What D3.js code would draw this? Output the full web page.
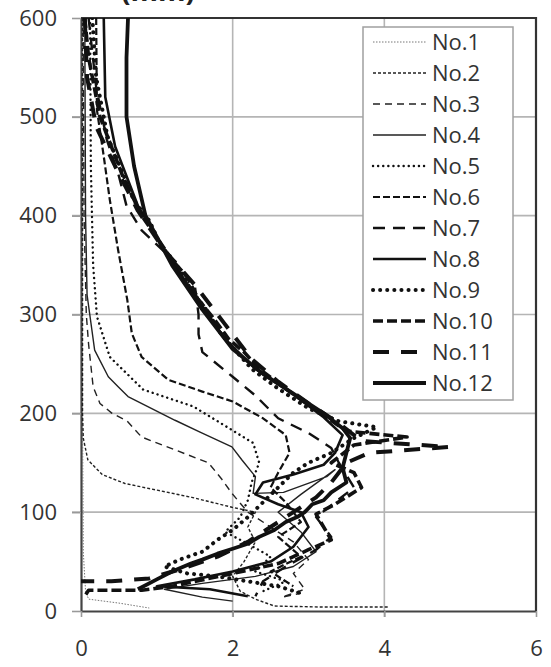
<!DOCTYPE html>
<html>
<head>
<meta charset="utf-8">
<script src="https://cdn.jsdelivr.net/npm/d3@7"></script>
<style>
  body { margin: 0; background: #fff; }
  .axis text { font-family: "Open Sans", sans-serif; font-size: 22px; fill: #333; }
  .legend text { font-family: "Open Sans", sans-serif; font-size: 22px; fill: #333; }
</style>
</head>
<body>
<div id="chart"></div>
<script>
// profiles: [value, height]
var no1 = [[0.02,600],[0.02,400],[0.02,200],[0.03,60],[0.06,20],[0.1,12],[0.5,8],[0.9,3]];
var no2 = [[0.02,600],[0.02,400],[0.02,200],[0.03,175],[0.09,153],[0.28,138],[0.58,129],[1.02,122],[1.46,115],[1.99,105],[2.3,100],
           [2.2,85],[2.3,70],[2.15,50],[2.0,35],[2.1,20],[2.3,12],[2.55,5],[3.2,4],[4.05,4]];
var no3 = [[0.03,600],[0.04,400],[0.07,300],[0.1,270],[0.16,227],[0.25,210],[0.41,200],[0.61,192],[0.8,176],[1.24,163],[1.68,150],
           [1.86,133],[1.99,119],[2.2,100],[2.5,85],[2.8,70],[3.0,52],[2.8,38],[2.95,22],[2.65,14],[2.9,18]];
var no4 = [[0.05,600],[0.06,400],[0.08,320],[0.18,264],[0.36,237],[0.49,227],[0.62,217],[1.24,193],[1.57,181],[1.99,166],[2.12,153],
           [2.3,136],[2.27,119],[2.67,120],[3.24,136],[3.35,143],[2.9,118],[2.6,100],[2.9,80],[3.1,60],[2.8,45],[2.3,35],[1.6,28],[1.1,22],[1.6,14],[2.0,10]];
var no5 = [[0.12,600],[0.13,450],[0.16,350],[0.21,298],[0.38,257],[0.82,224],[1.48,207],[1.93,186],[2.27,170],[2.35,150],[2.25,130],
           [2.2,112],[2.1,95],[1.9,80],[2.2,68],[2.5,55],[2.3,40],[2.7,30],[2.4,20]];
var no6 = [[0.2,600],[0.21,507],[0.3,460],[0.38,416],[0.49,365],[0.61,315],[0.67,281],[0.8,257],[1.15,234],[1.6,222],[2.0,212],
           [2.4,195],[2.7,178],[2.75,160],[2.6,140],[2.5,125],[2.7,110],[2.9,90],[2.6,75],[2.9,55],[2.5,40],[2.8,25]];
var no7 = [[0.1,600],[0.2,530],[0.34,477],[0.5,440],[0.6,410],[0.8,385],[1.15,360],[1.5,330],[1.55,300],[1.55,280],[1.6,262],[2.0,237],
           [2.3,218],[2.6,195],[3.0,180],[3.3,165],[3.4,150],[3.6,125],[3.3,107],[3.1,95],[3.3,75],[3.1,62],[2.7,45],[2.4,30],[2.3,15]];
var no8 = [[0.3,600],[0.32,520],[0.45,470],[0.75,410],[1.1,365],[1.5,320],[1.9,275],[2.3,245],[2.75,222],[3.2,196],[3.45,178],[3.35,160],
           [3.2,148],[2.8,138],[2.4,130],[2.3,118],[2.6,108],[2.9,100],[3.0,85],[2.8,65],[2.5,50],[2.0,40],[1.5,32],[1.0,25],[1.7,22],[2.2,15]];
var no9 = [[0.15,600],[0.2,540],[0.35,480],[0.7,415],[0.9,395],[1.05,370],[1.25,352],[1.45,325],[1.65,305],[1.85,280],[2.25,245],[2.6,225],
           [3.0,205],[3.4,192],[3.9,186],[3.6,175],[3.3,160],[3.0,150],[2.8,140],[2.6,125],[2.4,110],[2.2,95],[2.0,82],[1.8,72],[1.6,60],
           [1.3,52],[1.1,45],[1.4,38],[1.8,35],[2.2,30],[2.6,25],[2.9,18]];
var no10 = [[0.05,600],[0.1,560],[0.25,500],[0.55,440],[0.8,400],[1.0,378],[1.2,355],[1.4,338],[1.55,315],[1.75,296],[1.95,275],[2.15,262],
            [2.35,245],[2.75,222],[3.2,198],[3.5,182],[4.3,176],[3.6,168],[3.3,150],[3.6,140],[3.7,125],[3.35,108],[3.1,98],[3.3,72],
            [3.0,62],[2.6,48],[2.0,38],[1.2,25],[0.8,21],[0.1,21],[0.05,15]];
var no11 = [[0.05,600],[0.08,540],[0.2,490],[0.45,450],[0.75,405],[1.1,365],[1.5,330],[1.9,290],[2.25,255],[2.6,232],[3.0,210],[3.4,190],
            [3.7,172],[4.85,166],[3.8,160],[3.5,150],[3.3,130],[3.1,115],[2.8,100],[2.5,85],[2.2,70],[1.8,55],[1.3,42],[0.9,33],[0.4,30],[0,30]];
var no12 = [[0.62,600],[0.6,560],[0.6,500],[0.7,450],[0.85,400],[1.2,350],[1.6,305],[2.0,265],[2.4,240],[2.8,220],[3.2,200],[3.45,185],
            [3.55,175],[3.5,160],[3.45,145],[3.5,130],[3.3,120],[3.2,112],[3.05,108],[2.95,100],[2.85,95],[2.7,90],[2.55,82],[2.35,75],
            [2.2,68],[2.0,63],[1.8,58],[1.6,52],[1.45,48],[1.2,40],[1.0,32],[0.75,22]];

var seriesNames = ["No.1","No.2","No.3","No.4","No.5","No.6","No.7","No.8","No.9","No.10","No.11","No.12"];
var seriesData = [no1,no2,no3,no4,no5,no6,no7,no8,no9,no10,no11,no12];
var xTicks = [0,2,4,6];
var yTicks = [0,100,200,300,400,500,600];

// line look per series
var styles = [
  {w:1,   dash:"1.5,1.5", color:"#777", cap:"butt"},
  {w:1.4, dash:"3,2",     color:"#222", cap:"butt"},
  {w:1.4, dash:"7,5",     color:"#222", cap:"butt"},
  {w:1.4, dash:null,      color:"#222", cap:"butt"},
  {w:2.4, dash:"0.1,5",   color:"#111", cap:"round"},
  {w:2.2, dash:"7,3",     color:"#111", cap:"butt"},
  {w:2.4, dash:"12,8",    color:"#111", cap:"butt"},
  {w:2.6, dash:null,      color:"#111", cap:"butt"},
  {w:4,   dash:"0.1,7",   color:"#111", cap:"round"},
  {w:3.6, dash:"10,4",    color:"#111", cap:"butt"},
  {w:4,   dash:"16,12",   color:"#111", cap:"butt"},
  {w:3.8, dash:null,      color:"#111", cap:"butt"}
];

var margin = {left: 81, top: 18, right: 15, bottom: 56};
var width = 551, height = 667;

var svg = d3.select("#chart").append("svg")
    .attr("width", width)
    .attr("height", height);

var x = d3.scaleLinear().domain([0, 6]).range([margin.left, width - margin.right]);
var y = d3.scaleLinear().domain([0, 600]).range([height - margin.bottom, margin.top]);

// title, cut by the top edge as in the source figure
svg.append("text")
    .attr("x", 158).attr("y", 1)
    .attr("text-anchor", "middle")
    .style("font-family", "Open Sans, sans-serif")
    .style("font-size", "28px")
    .style("font-weight", "bold")
    .attr("fill", "#222")
    .text("(mm)");

// grid
svg.append("g").selectAll("line").data(yTicks.slice(1, -1)).enter().append("line")
    .attr("x1", x(0) - 9).attr("x2", x(6))
    .attr("y1", d => y(d)).attr("y2", d => y(d))
    .attr("stroke", "#b5b5b5").attr("stroke-width", 1.6);
svg.append("g").selectAll("line").data(xTicks.slice(1, -1)).enter().append("line")
    .attr("x1", d => x(d)).attr("x2", d => x(d))
    .attr("y1", y(600)).attr("y2", y(0) + 6)
    .attr("stroke", "#b5b5b5").attr("stroke-width", 1.6);

// axes
svg.append("g").attr("class", "axis")
    .attr("transform", "translate(" + x(0) + ",0)")
    .call(d3.axisLeft(y).tickValues(yTicks).tickFormat(d3.format("d")).tickSize(9).tickPadding(15).tickSizeOuter(0));
svg.append("g").attr("class", "axis")
    .attr("transform", "translate(0," + y(0) + ")")
    .call(d3.axisBottom(x).tickValues(xTicks).tickFormat(d3.format("d")).tickSize(6).tickPadding(23).tickSizeOuter(0));
svg.selectAll(".axis .tick line").attr("stroke", "#999").attr("stroke-width", 1.6);
svg.selectAll(".axis path").attr("stroke", "#444").attr("stroke-width", 2.2);

// top and right frame
svg.append("path")
    .attr("d", "M" + x(0) + "," + y(600) + "H" + x(6) + "V" + y(0))
    .attr("fill", "none").attr("stroke", "#333").attr("stroke-width", 2.2);

svg.append("clipPath").attr("id", "clip").append("rect")
    .attr("x", x(0)).attr("y", y(600))
    .attr("width", x(6) - x(0)).attr("height", y(0) - y(600));

var line = d3.line()
    .x(d => x(d[0]))
    .y(d => y(d[1]));

svg.append("g").attr("clip-path", "url(#clip)")
    .selectAll("path").data(seriesData).enter().append("path")
    .attr("d", line)
    .attr("fill", "none")
    .attr("stroke", (d, i) => styles[i].color)
    .attr("stroke-width", (d, i) => styles[i].w)
    .attr("stroke-dasharray", (d, i) => styles[i].dash)
    .attr("stroke-linecap", (d, i) => styles[i].cap)
    .attr("stroke-linejoin", "round");

// legend
var legend = svg.append("g").attr("class", "legend");
legend.append("rect")
    .attr("x", 363).attr("y", 27).attr("width", 150).attr("height", 373)
    .attr("fill", "#fff").attr("stroke", "#a0a0a0").attr("stroke-width", 1.5);

var rows = legend.selectAll(".row").data(seriesNames).enter().append("g")
    .attr("class", "row")
    .attr("transform", (d, i) => "translate(0," + (42 + i * 31) + ")");
rows.append("line")
    .attr("x1", 373).attr("x2", 426)
    .attr("stroke", (d, i) => styles[i].color)
    .attr("stroke-width", (d, i) => styles[i].w)
    .attr("stroke-dasharray", (d, i) => styles[i].dash)
    .attr("stroke-linecap", (d, i) => styles[i].cap);
rows.append("text")
    .attr("x", 432).attr("y", 8)
    .text(d => d);
</script>
</body>
</html>
